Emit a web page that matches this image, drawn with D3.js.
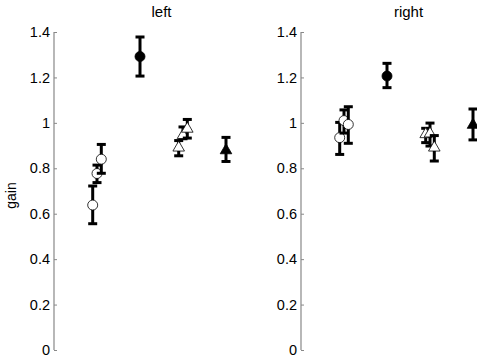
<!DOCTYPE html>
<html>
<head>
<meta charset="utf-8">
<script src="https://cdn.jsdelivr.net/npm/d3@7"></script>
<style>
  body { margin: 0; background: #fff; }
  text { font-family: "Liberation Sans", Arial, sans-serif; }
</style>
</head>
<body>
<div id="chart"></div>
<script>
// Data: x group (1..4) plus a small offset, mean gain, error low/high
var panels = ['left', 'right'];
var groupX = [0.9, 1.0, 1.1, 2.0, 2.9, 3.0, 3.1, 4.0];
var markers = ['o', 'o', 'o', 'O', 't', 't', 't', 'T']; // lower = open, upper = filled

var leftMean = [0.638, 0.777, 0.84, 1.292, 0.895, 0.95, 0.978, 0.883];
var leftLow = [0.556, 0.737, 0.778, 1.206, 0.855, 0.93, 0.933, 0.83];
var leftHigh = [0.722, 0.814, 0.905, 1.378, 0.922, 0.982, 1.015, 0.936];

var rightMean = [0.935, 1.01, 0.993, 1.206, 0.954, 0.957, 0.895, 0.995];
var rightLow = [0.861, 0.955, 0.91, 1.155, 0.913, 0.898, 0.832, 0.925];
var rightHigh = [1.002, 1.057, 1.071, 1.262, 0.976, 0.999, 0.944, 1.061];

var yTicks = [0, 0.2, 0.4, 0.6, 0.8, 1, 1.2, 1.4];

var width = 477, height = 360;
var panelLeft = [54, 301];
var panelWidth = 215;
var plotTop = 32, plotBottom = 350;

var svg = d3.select('#chart')
  .append('svg')
  .attr('width', width)
  .attr('height', height);

var scaleY = d3.scaleLinear()
  .domain([0, 1.4])
  .range([plotBottom, plotTop]);

var tri = d3.symbol().type(d3.symbolTriangle).size(58);

function drawPanel(idx, means, lows, highs) {
  var scaleX = d3.scaleLinear()
    .domain([0, 5])
    .range([panelLeft[idx], panelLeft[idx] + panelWidth]);

  // Axis
  var axisY = d3.axisRight(scaleY)
    .tickValues(yTicks)
    .tickSize(3)
    .tickFormat(function (d) { return String(+d.toFixed(1)); });

  var ax = svg.append('g')
    .attr('transform', 'translate(' + panelLeft[idx] + ',0)')
    .call(axisY);
  ax.select('.domain').attr('stroke', '#888').attr('stroke-width', 1.2)
    .attr('d', 'M0,' + plotTop + 'V' + plotBottom);
  ax.selectAll('.tick line').attr('stroke', '#888');
  ax.selectAll('.tick text')
    .attr('x', -4)
    .attr('text-anchor', 'end')
    .attr('font-size', 14.5)
    .attr('fill', '#000')
    .attr('font-family', '"Liberation Sans", Arial, sans-serif');

  // Title
  svg.append('text')
    .attr('x', scaleX(2.5))
    .attr('y', 16.5)
    .attr('text-anchor', 'middle')
    .attr('font-size', 15)
    .text(panels[idx]);

  var g = svg.append('g');
  groupX.forEach(function (gx, i) {
    var x = scaleX(gx);
    // error bar
    g.append('line')
      .attr('x1', x).attr('x2', x)
      .attr('y1', scaleY(lows[i])).attr('y2', scaleY(highs[i]))
      .attr('stroke', '#000').attr('stroke-width', 3);
    [lows[i], highs[i]].forEach(function (v) {
      g.append('line')
        .attr('x1', x - 4.5).attr('x2', x + 4.5)
        .attr('y1', scaleY(v)).attr('y2', scaleY(v))
        .attr('stroke', '#000').attr('stroke-width', 3);
    });
    // marker
    var m = markers[i];
    var filled = (m === 'O' || m === 'T');
    if (m === 'o' || m === 'O') {
      g.append('circle')
        .attr('cx', x).attr('cy', scaleY(means[i]))
        .attr('r', 5)
        .attr('fill', filled ? '#000' : '#fff')
        .attr('stroke', '#000').attr('stroke-width', 0.8);
    } else {
      g.append('path')
        .attr('d', tri())
        .attr('transform', 'translate(' + x + ',' + (scaleY(means[i]) + 1) + ')')
        .attr('fill', filled ? '#000' : '#fff')
        .attr('stroke', '#000').attr('stroke-width', 0.8);
    }
  });
}

drawPanel(0, leftMean, leftLow, leftHigh);
drawPanel(1, rightMean, rightLow, rightHigh);

// y label
svg.append('text')
  .attr('transform', 'translate(16,' + scaleY(0.68) + ') rotate(-90)')
  .attr('text-anchor', 'middle')
  .attr('font-size', 14)
  .text('gain');
</script>
</body>
</html>
